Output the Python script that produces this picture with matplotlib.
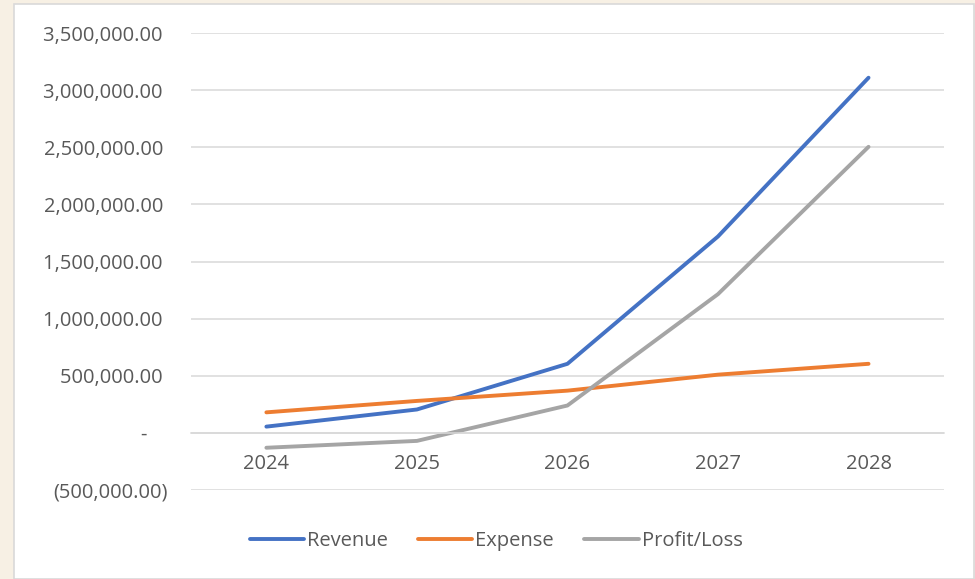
import matplotlib
matplotlib.use('Agg')
import matplotlib.pyplot as plt
from matplotlib.patches import Rectangle

# Data
years = ['2024', '2025', '2026', '2027', '2028']
revenue = [55000, 205000, 605000, 1720000, 3110000]
expense = [180000, 280000, 370000, 510000, 605000]
profit_loss = [-130000, -70000, 240000, 1215000, 2505000]

yticks = [-500000, 0, 500000, 1000000, 1500000, 2000000, 2500000, 3000000, 3500000]
ytick_labels = ['(500,000.00)', '-    ', '500,000.00 ', '1,000,000.00 ', '1,500,000.00 ',
                '2,000,000.00 ', '2,500,000.00 ', '3,000,000.00 ', '3,500,000.00 ']

plt.rcParams['font.family'] = ['Open Sans', 'DejaVu Sans']
text_color = '#595959'
fs = 14.5

fig = plt.figure(figsize=(9.75, 5.79), dpi=100, facecolor='#f7f0e4')
# white chart area with thin border
fig.add_artist(Rectangle((14 / 975, 0), 960 / 975, 575 / 579, transform=fig.transFigure,
                         facecolor='white', edgecolor='#d9d9d9', linewidth=1.2, zorder=0))

ax = fig.add_axes([0.196, 0.1537, 0.772, 0.789])
ax.set_facecolor('none')

x = range(len(years))
ax.plot(x, revenue, color='#4472C4', linewidth=2.8, label='Revenue', solid_capstyle='round')
ax.plot(x, expense, color='#ED7D31', linewidth=2.8, label='Expense', solid_capstyle='round')
ax.plot(x, profit_loss, color='#A5A5A5', linewidth=2.8, label='Profit/Loss', solid_capstyle='round')

ax.set_xlim(-0.5, len(years) - 0.5)
ax.set_ylim(-500000, 3500000)
ax.set_yticks(yticks)
ax.set_yticklabels(ytick_labels)
ax.set_xticks(list(x))
ax.set_xticklabels(years)

ax.grid(axis='y', color='#d9d9d9', linewidth=1.1)
ax.set_axisbelow(True)
for side in ['top', 'right', 'left']:
    ax.spines[side].set_visible(False)
ax.spines['bottom'].set_position(('data', 0))
ax.spines['bottom'].set_color('#d9d9d9')
ax.spines['bottom'].set_linewidth(1.1)

ax.tick_params(axis='y', length=0, pad=16.5, labelsize=fs, labelcolor=text_color)
ax.tick_params(axis='x', length=0, pad=15, labelsize=fs, labelcolor=text_color)

# legend is centred on the whole chart area, not the plot area
ax.legend(loc='center', bbox_to_anchor=(496 / 975, 38 / 579), bbox_transform=fig.transFigure,
          ncol=3, frameon=False, fontsize=fs, labelcolor=text_color,
          handlelength=2.7, handletextpad=0.15, columnspacing=1.5)

fig.savefig('out.png', dpi=100, facecolor=fig.get_facecolor())
